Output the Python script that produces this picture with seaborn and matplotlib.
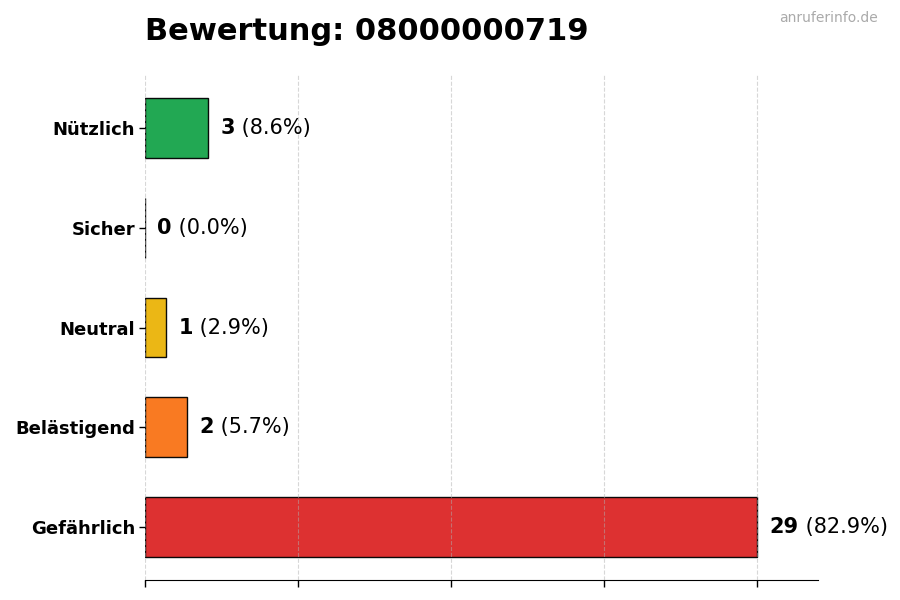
import numpy as np
import pandas as pd
import matplotlib
matplotlib.use("Agg")
from matplotlib import pyplot as plt
import seaborn as sns

# data
categories = ["Nützlich", "Sicher", "Neutral", "Belästigend", "Gefährlich"]
counts = [3, 0, 1, 2, 29]
bar_colors = ["#16a34a", "#64748b", "#eab308", "#f97316", "#dc2626"]
title = "Bewertung: 08000000719"
watermark = "anruferinfo.de"

total = sum(counts)
df = pd.DataFrame({"category": categories, "count": counts})
palette = dict(zip(categories, bar_colors))

sns.set_style("white")
plt.rcParams["font.family"] = ["DejaVu Sans"]
plt.rcParams["text.color"] = "black"
plt.rcParams["xtick.color"] = "black"
plt.rcParams["ytick.color"] = "black"

fig = plt.figure(figsize=(9, 6), dpi=100)
ax = fig.add_axes([0.161, 0.0333, 0.748, 0.8417])

sns.barplot(
    data=df, x="count", y="category", hue="category", palette=palette,
    order=categories, orient="h", width=0.6, edgecolor="black",
    linewidth=1, alpha=0.95, saturation=1, legend=False, ax=ax,
)

xmax = max(counts) * 1.1
ax.set_xlim(0, xmax)
ax.set_ylim(len(categories) - 0.47, -0.53)
ax.set_xticks(np.linspace(0, max(counts), 5))
ax.set_xticklabels([])
ax.tick_params(axis="x", bottom=True, length=5, width=1, color="black")
ax.tick_params(axis="y", left=True, length=4, width=1, color="black", pad=3)
for lbl in ax.get_yticklabels():
    lbl.set_fontweight("bold")
    lbl.set_fontsize(13)
    lbl.set_color("black")
ax.set_xlabel("")
ax.set_ylabel("")
ax.set_axisbelow(False)
ax.grid(axis="x", linestyle="--", color="#b0b0b0", linewidth=0.8, alpha=0.5)
sns.despine(ax=ax, left=True, top=True, right=True)
ax.spines["bottom"].set_color("black")

fig.canvas.draw()
for i, c in enumerate(counts):
    t = ax.annotate(f"{c}", xy=(c, i), xytext=(9, 0), textcoords="offset points",
                    va="center", ha="left", fontsize=15, fontweight="bold",
                    color="black")
    ax.annotate(f" ({c / total * 100:.1f}%)", xy=(1, 0.5), xycoords=t,
                va="center", ha="left", fontsize=15, color="black")

fig.text(0.161, 0.947, title, fontsize=22, fontweight="bold", ha="left",
         va="center", color="black")
fig.text(0.975, 0.97, watermark, fontsize=10, color="#aaaaaa", ha="right", va="center")

fig.savefig("out.png", dpi=100)
